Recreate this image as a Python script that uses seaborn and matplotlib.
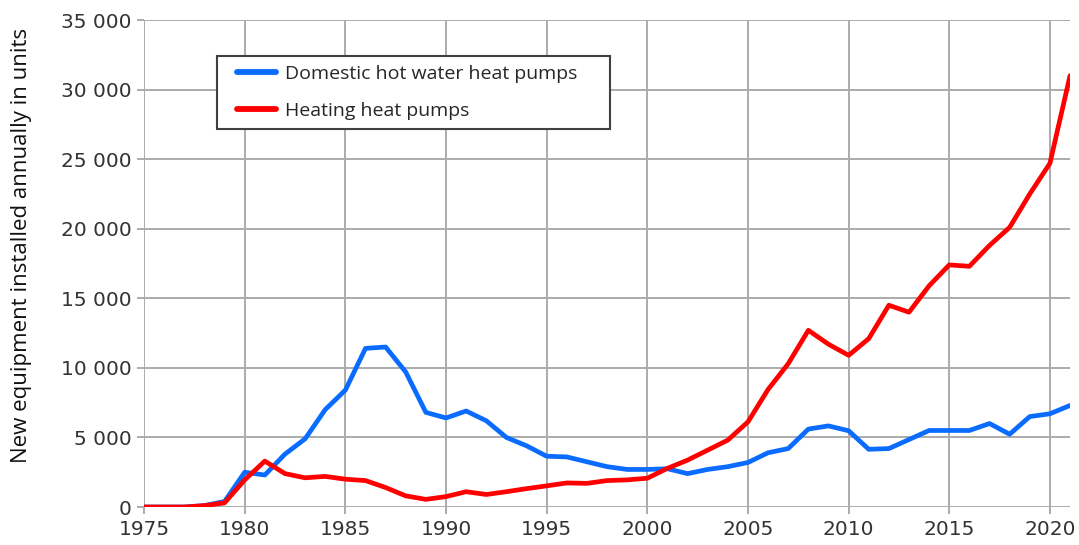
import numpy as np
import pandas as pd
import matplotlib
matplotlib.use("Agg")
import matplotlib.pyplot as plt
import matplotlib.ticker as mticker
from matplotlib.lines import Line2D
from matplotlib.legend_handler import HandlerLine2D
import seaborn as sns

years = list(range(1975, 2022))
domestic_hot_water = [0, 0, 0, 100, 400, 2500, 2300, 3800, 4900, 7000,
                      8400, 11400, 11500, 9700, 6800, 6400, 6900, 6200, 5000, 4400,
                      3650, 3600, 3250, 2900, 2700, 2700, 2750, 2400, 2700, 2900,
                      3200, 3900, 4200, 5600, 5830, 5480, 4150, 4200, 4850, 5500,
                      5500, 5500, 6000, 5230, 6500, 6700, 7300]
heating = [0, 0, 0, 100, 300, 1950, 3300, 2400, 2100, 2200,
           2000, 1900, 1400, 800, 550, 750, 1100, 900, 1100, 1320,
           1520, 1730, 1700, 1900, 1950, 2070, 2780, 3370, 4090, 4810,
           6120, 8450, 10300, 12700, 11700, 10900, 12100, 14500, 14000, 15900,
           17400, 17300, 18800, 20100, 22500, 24700, 31000]
series_names = ["Domestic hot water heat pumps", "Heating heat pumps"]
x_ticks = [1975, 1980, 1985, 1990, 1995, 2000, 2005, 2010, 2015, 2020]
y_ticks = [0, 5000, 10000, 15000, 20000, 25000, 30000, 35000]

df = pd.DataFrame({
    "year": years * 2,
    "value": domestic_hot_water + heating,
    "series": [series_names[0]] * len(years) + [series_names[1]] * len(years),
})

sns.set_theme(style="white")
plt.rcParams["font.family"] = ["DejaVu Sans"]

fig = plt.figure(figsize=(10.79, 5.45), dpi=100)
ax = fig.add_axes([0.1335, 0.0697, 0.9917 - 0.1335, 0.9633 - 0.0697])

grid_col = "#ababab"
blue = "#0a6cff"
red = "#ff0000"
sns.lineplot(data=df, x="year", y="value", hue="series",
             palette={series_names[0]: blue, series_names[1]: red},
             linewidth=3.4, ax=ax, legend=False, zorder=3)

ax.set_xlim(1975, 2021)
ax.set_ylim(0, 35000)
ax.set_xticks(x_ticks)
ax.set_yticks(y_ticks)
ax.yaxis.set_major_formatter(mticker.FuncFormatter(lambda v, p: f"{int(v):,}".replace(",", " ")))
ax.grid(True, color=grid_col, linewidth=1.4, zorder=0)
for s in ax.spines.values():
    s.set_visible(False)
ax.tick_params(axis="both", which="major", length=5, width=1.4, color=grid_col,
               labelsize=14.5, labelcolor="#333333", pad=4, bottom=True, left=True)
ax.set_xlabel("")
ax.set_ylabel("New equipment installed annually in units", fontsize=16,
              family=["Open Sans", "DejaVu Sans"], color="#111111")
ax.yaxis.set_label_coords(-0.121, 0.538)

handles = [Line2D([], [], color=blue, linewidth=4.2, solid_capstyle="round"),
           Line2D([], [], color=red, linewidth=4.2, solid_capstyle="round")]
leg = ax.legend(handles, series_names, loc="upper left",
                bbox_to_anchor=(0.0788, 0.926, 0.4244, 0.0), mode="expand",
                borderaxespad=0, fancybox=False, frameon=True, framealpha=1,
                edgecolor="#404040", prop={"family": ["Open Sans", "DejaVu Sans"], "size": 14},
                handlelength=2.6, handletextpad=0.45, borderpad=0.45, labelspacing=1.0,
                handler_map={Line2D: HandlerLine2D(xpad=0.6)})
leg.get_frame().set_linewidth(1.5)
leg.set_zorder(5)

fig.savefig("out.png", dpi=100)
